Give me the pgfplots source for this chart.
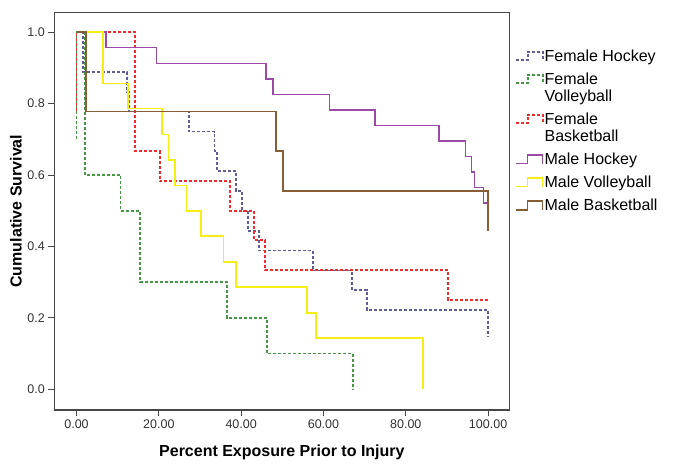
\documentclass[border=0pt]{standalone}
\usepackage{fontspec}
\setmainfont{Liberation Sans}
\usepackage{pgfplots}
\pgfplotsset{compat=1.18}
\pgfplotsset{
  oneline/.style={legend image code/.code={\draw[##1] (0pt,-4pt) -- (12pt,-4pt) -- (12pt,4.5pt) -- (27pt,4.5pt) -- (27pt,-4pt);}},
  twoline/.style={legend image code/.code={\draw[##1] (0pt,4.5pt) -- (12pt,4.5pt) -- (12pt,13pt) -- (27pt,13pt) -- (27pt,4.5pt);}},
}
\definecolor{fhock}{RGB}{95,95,150}
\definecolor{fvoll}{RGB}{70,150,70}
\definecolor{fbask}{RGB}{235,45,45}
\definecolor{mhock}{RGB}{155,75,165}
\definecolor{mvoll}{RGB}{245,238,20}
\definecolor{mbask}{RGB}{135,95,55}
\definecolor{framec}{RGB}{70,70,70}
\definecolor{tickc}{RGB}{50,50,50}
\begin{document}
\begin{tikzpicture}
\useasboundingbox (-54.3pt,-64pt) rectangle (630.7pt,410pt);
\begin{axis}[
  at={(0pt,0pt)}, anchor=south west,
  scale only axis, width=455.2pt, height=397.7pt,
  xmin=-5.4, xmax=105.2, ymin=-0.058, ymax=1.056,
  xtick={0,20,40,60,80,100}, ytick={0,0.2,0.4,0.6,0.8,1.0},
  tick align=outside, tick pos=left,
  major tick length=6pt,
  every tick/.style={framec, line width=0.9pt},
  axis line style={framec, line width=1.1pt},
  xticklabel style={/pgf/number format/.cd, fixed, fixed zerofill, precision=2, assume math mode=true},
  yticklabel style={/pgf/number format/.cd, fixed, fixed zerofill, precision=1, assume math mode=true},
  ticklabel style={font=\fontsize{12.5}{14}\selectfont, text=tickc},
  xlabel={Percent Exposure Prior to Injury},
  ylabel={Cumulative Survival},
  label style={font=\fontsize{16}{18}\selectfont\bfseries, text=black},
  xlabel style={at={(axis description cs:0.5,-0.1056)}, anchor=center},
  ylabel style={at={(axis description cs:-0.0841,0.5)}, anchor=center},
  oneline,
  legend style={at={(axis description cs:1.0066,0.914)}, anchor=north west, draw=none, fill=none,
    font=\fontsize{16}{17}\selectfont, row sep=8pt, inner sep=2pt,
    cells={anchor=west},
    nodes={inner sep=1pt, align=left}},
  clip=false,
]
\addplot[const plot, fhock, line width=1.8pt, dash pattern=on 3pt off 2pt] coordinates {
(0,1) (1.6,0.889) (12.3,0.833) (12.8,0.778) (27.4,0.722) (33.5,0.667) (34.2,0.611) (38.7,0.556) (40.2,0.5) (41.6,0.444) (44.4,0.389) (57.4,0.333) (67.0,0.278) (70.5,0.222) (100,0.148)};
\addlegendentry{Female Hockey}
\addplot[const plot, fvoll, line width=1.8pt, dash pattern=on 3pt off 2pt, twoline] coordinates {
(0,0.7) (0,1) (2.0,0.6) (10.7,0.5) (15.4,0.3) (36.5,0.2) (46.3,0.1) (67.2,0.0)};
\addlegendentry{Female\\Volleyball}
\addplot[const plot, fbask, line width=1.9pt, dash pattern=on 3pt off 2pt, twoline] coordinates {
(0,0.78) (0,1) (14.3,0.667) (20.2,0.583) (37.3,0.5) (43.2,0.417) (45.9,0.333) (90.3,0.25) (100,0.25)};
\addlegendentry{Female\\Basketball}
\addplot[const plot, mhock, line width=1.6pt] coordinates {
(0,1) (7.1,0.957) (19.4,0.913) (46.1,0.870) (47.7,0.826) (61.5,0.783) (72.5,0.739) (88.1,0.696) (94.5,0.652) (96.0,0.609) (96.7,0.565) (98.9,0.522) (100,0.522)};
\addlegendentry{Male Hockey}
\addplot[const plot, mvoll, line width=1.6pt] coordinates {
(0,1) (6.4,0.857) (12.5,0.786) (20.7,0.714) (22.3,0.643) (23.9,0.571) (26.7,0.5) (30.2,0.429) (35.7,0.357) (38.7,0.286) (56.0,0.214) (58.2,0.143) (84.2,0.0)};
\addlegendentry{Male Volleyball}
\addplot[const plot, mbask, line width=1.6pt] coordinates {
(0,1) (2.3,0.778) (48.5,0.667) (50.2,0.556) (100,0.444)};
\addlegendentry{Male Basketball}
\end{axis}
\end{tikzpicture}
\end{document}
